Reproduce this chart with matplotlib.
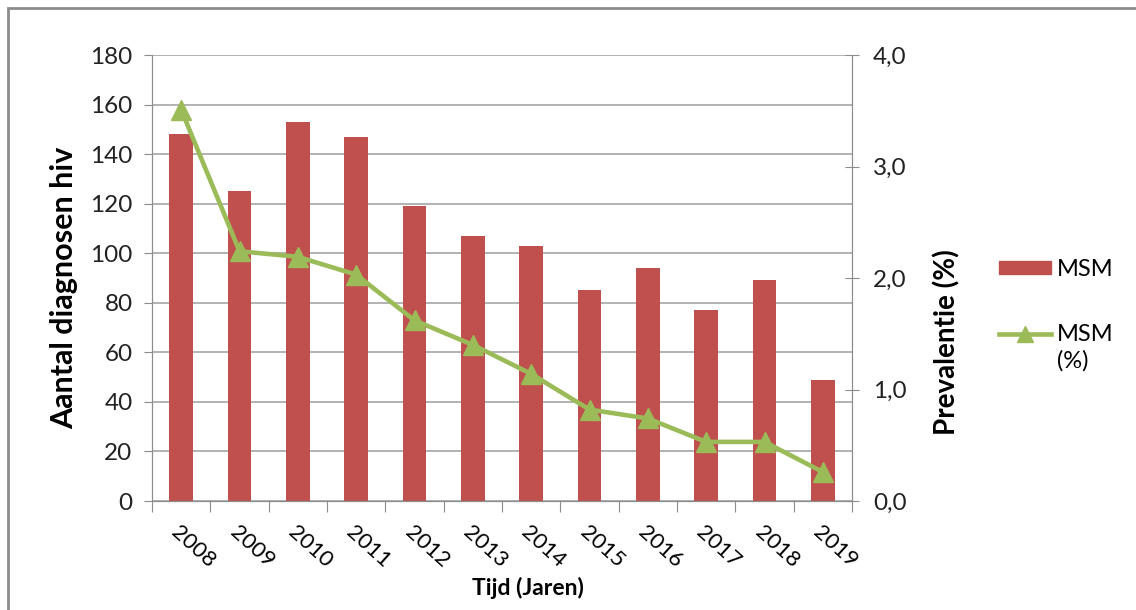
import matplotlib.pyplot as plt
import numpy as np
from matplotlib.patches import Rectangle, Patch
from matplotlib.lines import Line2D

plt.rcParams['font.family'] = ['Lato', 'DejaVu Sans']

# --- Data ---
years = ['2008', '2009', '2010', '2011', '2012', '2013',
         '2014', '2015', '2016', '2017', '2018', '2019']
msm_count = [148, 125, 153, 147, 119, 107, 103, 85, 94, 77, 89, 49]
msm_prev = [3.51, 2.24, 2.19, 2.03, 1.62, 1.40, 1.14, 0.82, 0.74, 0.53, 0.53, 0.26]

bar_color = '#C0504D'
line_color = '#9BBB59'
axis_grey = '#8C8C8C'

fig = plt.figure(figsize=(11.36, 6.10), dpi=100)
ax = fig.add_axes([152/1136, 1 - 501/610, 700/1136, 446/610])
ax2 = ax.twinx()

x = np.arange(len(years))
ax.bar(x, msm_count, width=0.41, color=bar_color, zorder=2)
ax2.plot(x, msm_prev, color=line_color, linewidth=3.3, marker='^',
         markersize=14, zorder=3)

# left axis
ax.set_xlim(-0.5, len(years) - 0.5)
ax.set_ylim(0, 180)
ax.set_yticks(range(0, 181, 20))
ax.yaxis.grid(True, color='#A6A6A6', linewidth=1.2, zorder=0)
ax.set_axisbelow(True)
ax.tick_params(axis='y', direction='out', length=6, color=axis_grey,
               labelsize=17.5, pad=8, labelcolor='#222222')

# x ticks at category boundaries, labels at bar centres
ax.set_xticks(np.arange(-0.5, len(years), 1.0))
ax.set_xticklabels([])
ax.tick_params(axis='x', direction='out', length=8, color=axis_grey)
ax.set_xticks(x, minor=True)
ax.set_xticklabels(years, minor=True, rotation=-42, ha='left',
                   rotation_mode='anchor', fontsize=16)
ax.tick_params(axis='x', which='minor', length=0, pad=15)

ax.spines['top'].set_visible(False)
ax2.spines['top'].set_visible(False)
for s in ['left', 'bottom', 'right']:
    ax.spines[s].set_color(axis_grey)
    ax2.spines[s].set_color(axis_grey)

# right axis
ax2.set_ylim(0, 4.0)
ax2.set_yticks([0, 1, 2, 3, 4])
ax2.set_yticklabels(['0,0', '1,0', '2,0', '3,0', '4,0'])
ax2.tick_params(axis='y', direction='inout', length=10, color=axis_grey,
                labelsize=17.5, pad=10, labelcolor='#222222')

ax.set_ylabel('Aantal diagnosen hiv', fontsize=22, fontweight='bold')
ax.yaxis.set_label_coords((78 - 152) / 700, (501 - 288) / 446)
ax2.set_ylabel('Prevalentie (%)', fontsize=20, fontweight='bold')
ax2.yaxis.set_label_coords((933 - 152) / 700, (501 - 342) / 446)
ax.set_xlabel('Tijd (Jaren)', fontsize=16.5, fontweight='bold')
ax.xaxis.set_label_coords((528 - 152) / 700, -0.17)

# legend
handles = [Patch(facecolor=bar_color, edgecolor=bar_color),
           Line2D([0], [0], color=line_color, linewidth=3.3, marker='^', markersize=11)]
leg = fig.legend(handles, ['MSM', 'MSM'], loc='center left',
                 bbox_to_anchor=(978/1136, 1 - 302/610), frameon=False,
                 fontsize=17, handlelength=2.2, handleheight=0.45,
                 labelspacing=1.9, handletextpad=0.25)
fig.canvas.draw()
txt = leg.get_texts()[1]
bb = txt.get_window_extent()
fig.text(bb.x0 / 1136, (bb.y0 - 5) / 610, '(%)', fontsize=17, va='top', ha='left')

# outer frame
fig.patches.append(Rectangle((8/1136, -0.05), 1.2, 1 - 8/610 + 0.05,
                             transform=fig.transFigure, fill=False,
                             edgecolor='#8C8C8C', linewidth=2))

fig.savefig('out.png', dpi=100)
